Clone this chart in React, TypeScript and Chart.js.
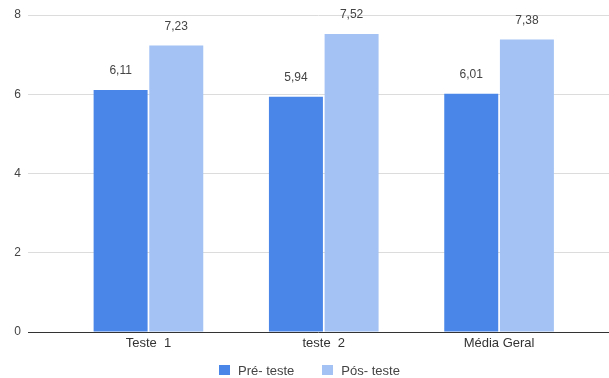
import React, { useEffect, useRef } from "react";
import { Chart, registerables } from "chart.js";

Chart.register(...registerables);

const categories = ["Teste  1", "teste  2", "Média Geral"];
const seriesNames = ["Pré- teste", "Pós- teste"];
const preValues = [6.11, 5.94, 6.01];
const postValues = [7.23, 7.52, 7.38];
const seriesColors = ["#4a86e8", "#a4c2f4"];
const yTicks = [0, 2, 4, 6, 8];

const FONT = "Arial, 'Liberation Sans', sans-serif";
const fmt = (v: number) => v.toFixed(2).replace(".", ",");

// Numeric value printed above every bar
const valueLabels = {
  id: "valueLabels",
  afterDatasetsDraw(chart: any) {
    const ctx = chart.ctx;
    ctx.save();
    ctx.font = `12px ${FONT}`;
    ctx.fillStyle = "#444";
    ctx.textAlign = "center";
    ctx.textBaseline = "middle";
    chart.data.datasets.forEach((ds: any, di: number) => {
      const meta = chart.getDatasetMeta(di);
      meta.data.forEach((bar: any, i: number) => {
        ctx.fillText(fmt(ds.data[i].y), bar.x, bar.y - 19);
      });
    });
    ctx.restore();
  },
};

export default function App() {
  const ref = useRef<HTMLCanvasElement>(null);
  useEffect(() => {
    document.body.style.margin = "0";
    const chart = new Chart(ref.current!, {
      type: "bar",
      data: {
        datasets: [preValues, postValues].map((vals, k) => ({
          label: seriesNames[k],
          data: vals.map((y, i) => ({ x: i, y })),
          backgroundColor: seriesColors[k],
          categoryPercentage: 0.635,
          barPercentage: 0.97,
        })),
      },
      options: {
        animation: false,
        responsive: false,
        layout: { padding: { top: 15, right: 0, left: 0, bottom: 26 } },
        plugins: {
          tooltip: { enabled: false },
          legend: { display: false },
        },
        scales: {
          x: {
            type: "linear",
            offset: false,
            min: -0.687,
            max: 2.627,
            grid: { display: false, drawTicks: false, offset: false },
            border: { display: false },
            afterBuildTicks: (s: any) => {
              s.ticks = categories.map((_, i) => ({ value: i }));
            },
            afterFit: (s: any) => {
              s.height = 20;
            },
            ticks: {
              padding: 4,
              color: "#333",
              font: { size: 13, family: FONT },
              callback: (v: any) => categories[v] ?? "",
              maxRotation: 0,
              autoSkip: false,
            },
          },
          y: {
            min: 0,
            max: 8,
            afterBuildTicks: (s: any) => {
              s.ticks = yTicks.map((v) => ({ value: v }));
            },
            afterFit: (s: any) => {
              s.width = 28;
            },
            border: { display: false },
            grid: {
              drawTicks: false,
              color: (c: any) => (c.tick && c.tick.value === 0 ? "#333" : "#dcdcdc"),
            },
            ticks: {
              padding: 7,
              color: "#444",
              font: { size: 12, family: FONT },
            },
          },
        },
      },
      plugins: [valueLabels],
    } as any);
    return () => chart.destroy();
  }, []);

  const legendItem = (k: number) => (
    <div key={k} style={{ display: "flex", alignItems: "center", marginRight: k === 0 ? 28 : 0 }}>
      <span style={{ display: "inline-block", width: 11, height: 10, background: seriesColors[k], marginRight: 8 }} />
      <span>{seriesNames[k]}</span>
    </div>
  );

  return (
    <div style={{ position: "relative", width: 609, height: 378 }}>
      <canvas ref={ref} width={609} height={378} style={{ display: "block" }} />
      <div
        style={{
          position: "absolute",
          left: 219,
          top: 361,
          height: 18,
          display: "flex",
          alignItems: "center",
          font: `13px ${FONT}`,
          color: "#444",
          whiteSpace: "pre",
        }}
      >
        {legendItem(0)}
        {legendItem(1)}
      </div>
    </div>
  );
}
